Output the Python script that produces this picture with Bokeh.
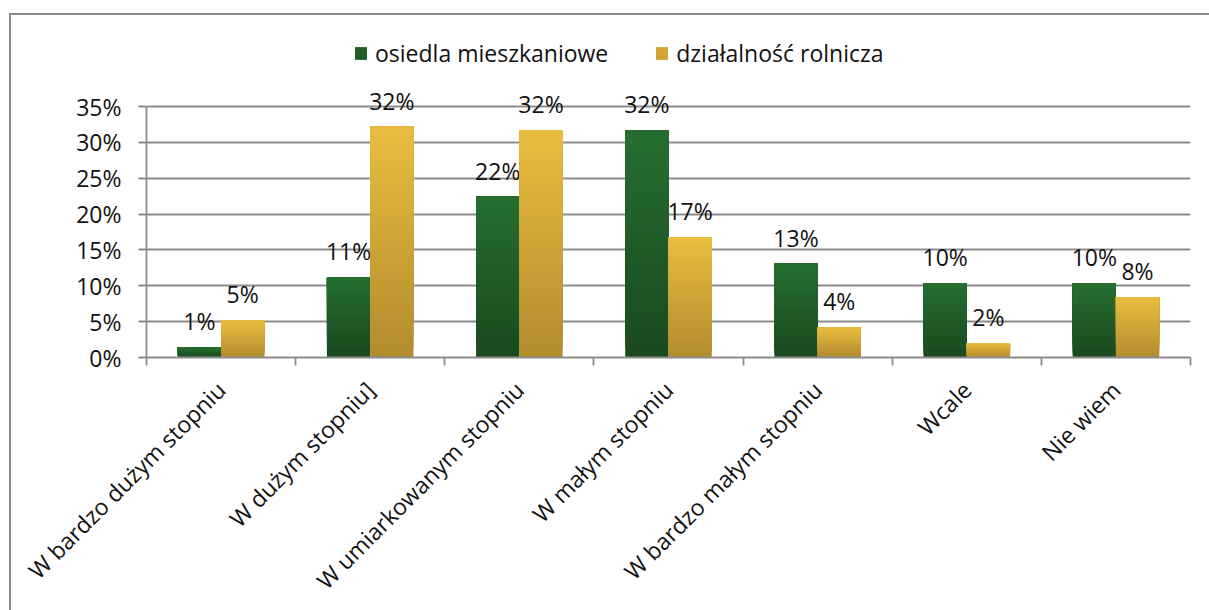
import math
from bokeh.plotting import figure
from bokeh.models import (Range1d, FixedTicker, NumeralTickFormatter, Legend, LegendItem,
                          ColumnDataSource, InlineStyleSheet)
from bokeh.core.properties import value
from bokeh.embed import file_html
from bokeh.resources import INLINE

categories = ["W bardzo dużym stopniu", "W dużym stopniu]", "W umiarkowanym stopniu",
              "W małym stopniu", "W bardzo małym stopniu", "Wcale", "Nie wiem"]
series_names = ["osiedla mieszkaniowe", "działalność rolnicza"]
osiedla = [0.014, 0.112, 0.224, 0.317, 0.131, 0.104, 0.104]
rolnicza = [0.052, 0.322, 0.317, 0.168, 0.042, 0.020, 0.084]
y_ticks = [0, 0.05, 0.10, 0.15, 0.20, 0.25, 0.30, 0.35]

FONT = "Open Sans"
GRAY = "#8c8c8c"
TXT = "#111111"
BAR_W = 0.29
N_BANDS = 24

green_top, green_bot = (0x26, 0x6e, 0x30), (0x1a, 0x4a, 0x1f)
gold_top, gold_bot = (0xe8, 0xbc, 0x3e), (0xb3, 0x8c, 0x2e)


def mix(c1, c2, t):
    return "#%02x%02x%02x" % tuple(int(round(a + (b - a) * t)) for a, b in zip(c1, c2))


# frame: page x 146..1190, page y 20..357 ; 0% at y=357, 35% at y=106
p = figure(width=1209, height=610, output_backend="svg", toolbar_location=None,
           x_range=Range1d(0, 7), y_range=Range1d(0, 0.35 * (357 - 20) / (357 - 106)),
           min_border_left=146, min_border_right=19, min_border_top=20, min_border_bottom=253)
p.outline_line_color = None
p.background_fill_color = "white"
p.border_fill_color = "white"

# grid
p.xgrid.grid_line_color = None
p.ygrid.ticker = FixedTicker(ticks=y_ticks)
p.ygrid.grid_line_color = GRAY
p.ygrid.grid_line_width = 1.8

# y axis
yax = p.yaxis[0]
yax.ticker = FixedTicker(ticks=y_ticks)
yax.formatter = NumeralTickFormatter(format="0%")
yax.bounds = (0, 0.35)
yax.axis_line_color = GRAY
yax.axis_line_width = 1.8
yax.major_tick_line_color = GRAY
yax.major_tick_line_width = 1.8
yax.major_tick_out = 8
yax.major_tick_in = 0
yax.minor_tick_line_color = None
yax.major_label_standoff = 17
yax.major_label_text_font = FONT
yax.major_label_text_font_size = "23px"
yax.major_label_text_color = TXT

# x axis
xax = p.xaxis[0]
centers = [i + 0.5 for i in range(len(categories))]
xax.ticker = FixedTicker(ticks=centers, minor_ticks=list(range(len(categories) + 1)))
xax.major_label_overrides = {c: lab for c, lab in zip(centers, categories)}
xax.major_tick_line_color = None
xax.minor_tick_line_color = GRAY
xax.minor_tick_line_width = 1.8
xax.minor_tick_out = 8
xax.minor_tick_in = 0
xax.axis_line_color = GRAY
xax.axis_line_width = 1.8
xax.major_label_orientation = math.pi / 4
xax.major_label_standoff = 20
xax.major_label_text_font = FONT
xax.major_label_text_font_size = "23px"
xax.major_label_text_color = TXT

# bars with vertical gradient built from overlapping bands (no seams)
legend_renderers = []
for vals, offs, ctop, cbot in [(osiedla, -BAR_W / 2, green_top, green_bot),
                               (rolnicza, BAR_W / 2, gold_top, gold_bot)]:
    xs = [c + offs for c in centers]
    mid_r = None
    for k in range(N_BANDS):
        t = k / (N_BANDS - 1)
        col = mix(cbot, ctop, t)
        src = ColumnDataSource(dict(x=xs,
                                    bottom=[v * k / N_BANDS for v in vals],
                                    top=vals))
        r = p.vbar(x="x", bottom="bottom", top="top", width=BAR_W, source=src,
                   fill_color=col, line_color=None)
        if k == N_BANDS // 2:
            mid_r = r
    legend_renderers.append(mid_r)
    lab_src = ColumnDataSource(dict(x=xs, y=vals, t=["%d%%" % round(v * 100) for v in vals]))
    p.text(x="x", y="y", text="t", source=lab_src, text_align="center",
           text_baseline="middle", y_offset=-26, text_font=value(FONT),
           text_font_size="23px", text_color=TXT)

legend = Legend(items=[LegendItem(label=n, renderers=[r]) for n, r in zip(series_names, legend_renderers)],
                orientation="horizontal", location=(207, 288),
                label_text_font=FONT, label_text_font_size="23px", label_text_color=TXT,
                glyph_width=15, glyph_height=16, label_standoff=7, spacing=46,
                border_line_color=None, background_fill_alpha=0, margin=0, padding=4)
p.add_layout(legend, "center")

# chart area border (only left and top edges visible in the crop): two thin lines
p.stylesheets = [InlineStyleSheet(css="""
:host::before {
  content: "";
  position: absolute;
  left: 9px; top: 13px; width: 1200px; height: 2px;
  background: #8a8a8a;
  pointer-events: none;
  z-index: 100;
}
:host::after {
  content: "";
  position: absolute;
  left: 9px; top: 13px; width: 2px; height: 597px;
  background: #8a8a8a;
  pointer-events: none;
  z-index: 100;
}
""")]

open("out.html", "w").write(file_html(p, INLINE))
